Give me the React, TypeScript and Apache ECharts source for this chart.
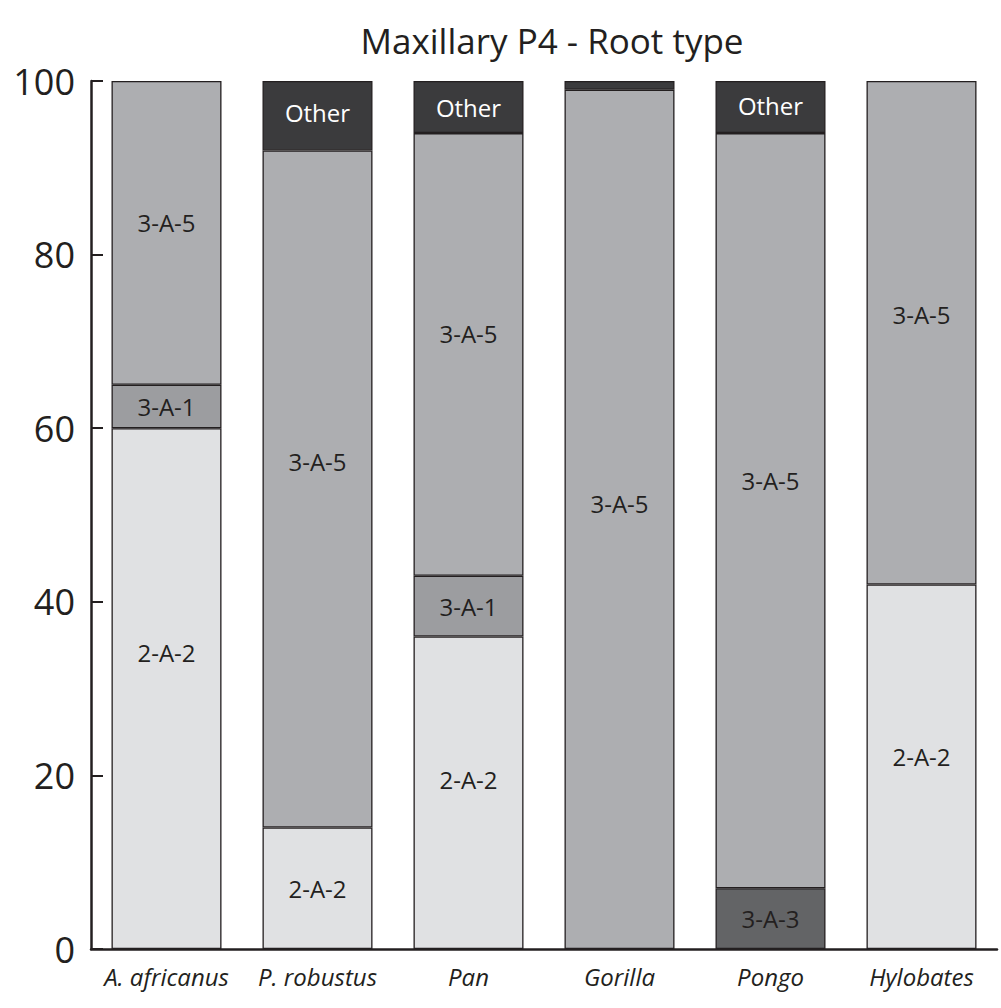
import React, { useEffect, useRef } from "react";
import * as echarts from "echarts";

const categories = ["A. africanus", "P. robustus", "Pan", "Gorilla", "Pongo", "Hylobates"];
const yTicks = [0, 20, 40, 60, 80, 100];

// stacked shares (percent), bottom to top; null = absent
const s2A2 = [60, 14, 36, null, null, 42];
const s3A3 = [null, null, null, null, 7, null];
const s3A1 = [5, null, 7, null, null, null];
const s3A5 = [35, 78, 51, 99, 87, 58];
const sOther = [null, 8, 6, 1, 6, null];

// label vertical nudges (px) as in the reference
const off2A2 = [-36, 0, -13, 0, 0, -10];
const off3A5 = [-10, -27, -21, -16, -30, -18];
const offOther = [0, -3, 0, 0, -2, 0];
const showOther = [false, true, true, false, true, false];

const INK = "#231f20";
const FONT = "'Open Sans', 'Noto Sans', sans-serif";

function build(vals: (number | null)[], offs?: number[], show?: boolean[]) {
  return vals.map((v, i) =>
    v == null
      ? "-"
      : {
          value: v,
          label: {
            show: show ? show[i] : true,
            offset: [0, offs ? offs[i] : 0],
          },
        }
  );
}

export default function App() {
  const ref = useRef<HTMLDivElement>(null);
  useEffect(() => {
    if (!ref.current) return;
    const chart = echarts.init(ref.current, undefined, { renderer: "svg" });
    const mk = (name: string, data: any[], color: string, labelColor = INK) => ({
      name,
      type: "bar",
      stack: "t",
      barWidth: 110,
      data,
      itemStyle: { color, borderColor: INK, borderWidth: 1.3 },
      label: {
        show: true,
        position: "inside",
        formatter: name,
        color: labelColor,
        fontSize: 24,
        fontFamily: FONT,
      },
      emphasis: { disabled: true },
    });
    chart.setOption({
      animation: false,
      backgroundColor: "#ffffff",
      graphic: [
        {
          type: "text",
          x: 552,
          y: 40,
          style: {
            text: "Maxillary P4 - Root type",
            fill: INK,
            font: `35px ${FONT}`,
            textAlign: "center",
            textVerticalAlign: "middle",
          },
        },
      ],
      grid: { left: 91, right: 4, top: 81, bottom: 59, containLabel: false },
      xAxis: {
        type: "category",
        data: categories,
        boundaryGap: true,
        axisLine: { lineStyle: { color: INK, width: 2.5 } },
        axisTick: { inside: true, length: 12, interval: 0, lineStyle: { color: INK, width: 2 } },
        axisLabel: {
          interval: 0,
          color: INK,
          fontSize: 24,
          fontStyle: "italic",
          fontFamily: FONT,
          margin: 15,
        },
      },
      yAxis: {
        type: "value",
        min: yTicks[0],
        max: yTicks[yTicks.length - 1],
        interval: 20,
        axisLine: { show: true, lineStyle: { color: INK, width: 2.5 } },
        axisTick: { show: true, inside: true, length: 12, lineStyle: { color: INK, width: 2 } },
        splitLine: { show: false },
        axisLabel: { color: INK, fontSize: 36, fontFamily: FONT, margin: 16 },
      },
      series: [
        mk("2-A-2", build(s2A2, off2A2), "#e0e1e3"),
        mk("3-A-3", build(s3A3), "#636466"),
        mk("3-A-1", build(s3A1), "#9c9da0"),
        mk("3-A-5", build(s3A5, off3A5), "#adaeb1"),
        mk("Other", build(sOther, offOther, showOther), "#3b3b3d", "#ffffff"),
      ],
    });
    return () => chart.dispose();
  }, []);
  return <div ref={ref} style={{ width: 1001, height: 1008, position: "absolute", left: 0, top: 0 }} />;
}
